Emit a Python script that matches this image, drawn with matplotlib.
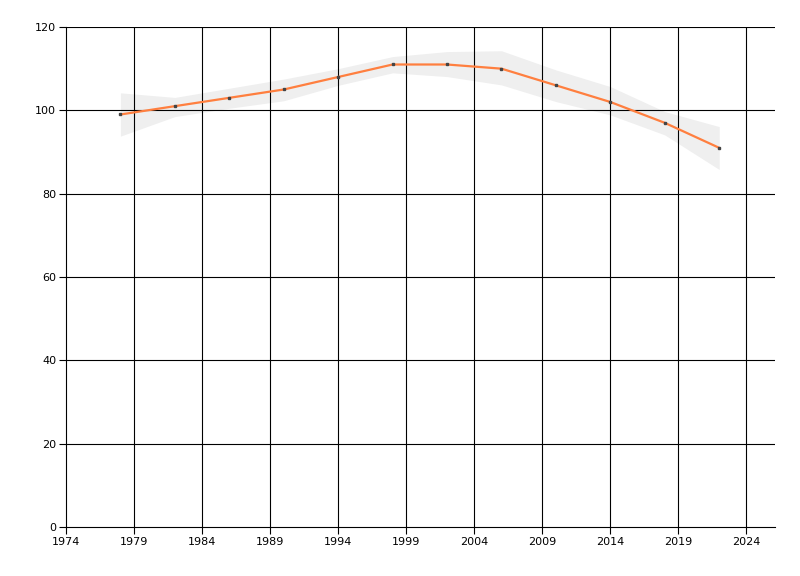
import matplotlib

matplotlib.use("Agg")
import matplotlib.pyplot as plt

plt.rcParams["font.family"] = ["DejaVu Sans"]

years = [1978, 1982, 1986, 1990, 1994, 1998, 2002, 2006, 2010, 2014, 2018, 2022]
values = [99, 101, 103, 105, 108, 111, 111, 110, 106, 102, 97, 91]
upper = [104.2, 103.1, 105.3, 107.5, 110.0, 112.9, 114.1, 114.3, 109.7, 105.7, 99.7, 96.1]
lower = [93.8, 98.5, 100.5, 102.3, 106.0, 109.0, 108.1, 106.1, 102.1, 98.9, 94.1, 85.8]

x_ticks = list(range(1974, 2025, 5))
y_ticks = list(range(0, 121, 20))

fig = plt.figure(figsize=(8, 5.76), dpi=100)
ax = fig.add_axes([66 / 800, 1 - 527 / 576, (775 - 66) / 800, 500 / 576])

ax.fill_between(years, lower, upper, color="#efefef", lw=0, zorder=1)
for xt in x_ticks[1:]:
    ax.axvline(xt, color="black", lw=0.8, zorder=2)
for yt in y_ticks[1:]:
    ax.axhline(yt, color="black", lw=0.8, zorder=2)
ax.plot(years, values, color="#ff7f3f", lw=1.6, zorder=3)
ax.plot(years, values, ls="none", marker="s", ms=1.5, color="#444444",
        mec="#444444", zorder=4)

ax.set_xlim(1974, 2026.1)
ax.set_ylim(0, 120)
ax.set_xticks(x_ticks)
ax.set_yticks(y_ticks)
ax.tick_params(labelsize=8, length=5, width=0.8, color="black", pad=2)
for side in ("top", "right"):
    ax.spines[side].set_visible(False)
for side in ("left", "bottom"):
    ax.spines[side].set_linewidth(0.8)

fig.savefig("out.png")
